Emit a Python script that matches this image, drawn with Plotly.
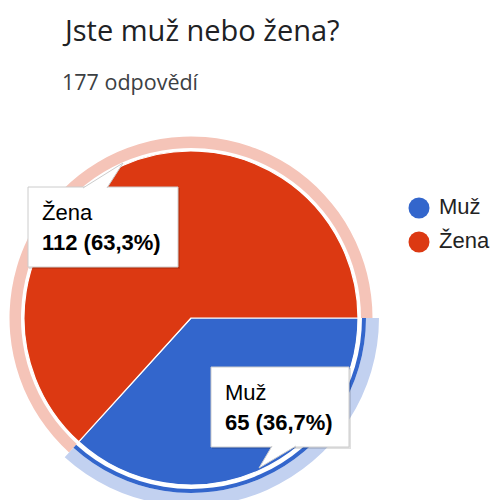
import plotly.graph_objects as go

# data
labels = ["Muž", "Žena"]
counts = [65, 112]
colors = ["#3366cc", "#dc3912"]
pale_colors = ["#c2d1f0", "#f5c4b8"]
title_text = "Jste muž nebo žena?"
total = sum(counts)
subtitle_text = f"{total} odpovědí"

W, H = 492, 512
CX, CY = 191, 318  # pie centre in pixels from top-left
CLEAR = "rgba(0,0,0,0)"


def px(x):
    return x / W


def py(y):
    return 1 - y / H


def dom(r):
    return dict(x=[px(CX - r), px(CX + r)], y=[py(CY + r), py(CY - r)])


def pct(v):
    return f"{v / total * 100:.1f}".replace(".", ",")


def ring(r_out, r_in, cols):
    return go.Pie(
        values=counts, labels=labels, sort=False, direction="clockwise", rotation=90,
        domain=dom(r_out), hole=r_in / r_out,
        marker=dict(colors=cols, line=dict(width=0)),
        textinfo="none", hoverinfo="skip", showlegend=False,
    )


fig = go.Figure()

# highlight rings
fig.add_trace(ring(181.5, 170, [CLEAR, pale_colors[1]]))
fig.add_trace(ring(188, 175, [pale_colors[0], CLEAR]))
fig.add_trace(ring(175, 171, [colors[0], CLEAR]))

# main pie
fig.add_trace(go.Pie(
    values=counts, labels=labels, sort=False, direction="clockwise", rotation=90,
    domain=dom(167),
    marker=dict(colors=colors, line=dict(color="white", width=1.2)),
    textinfo="none", hovertemplate="%{label}<br><b>%{value} (%{percent})</b><extra></extra>",
    showlegend=False,
))

# legend drawn as markers on a category axis (1 x-unit = 1 px)
fig.add_trace(go.Scatter(
    x=[0] * len(labels), y=labels, mode="markers",
    marker=dict(color=colors, size=21),
    hoverinfo="skip", showlegend=False, cliponaxis=False,
))
fig.add_trace(go.Scatter(
    x=[20] * len(labels), y=labels, mode="text",
    text=labels, textposition="middle right",
    textfont=dict(family="Liberation Sans, Arial", size=22, color="#222222"),
    hoverinfo="skip", showlegend=False, cliponaxis=False,
))

fig.update_layout(
    width=W, height=H,
    margin=dict(l=0, r=0, t=0, b=0),
    paper_bgcolor="white", plot_bgcolor="rgba(0,0,0,0)",
    showlegend=False,
    xaxis=dict(domain=[px(408), 1], range=[-11, 73], visible=False, fixedrange=True),
    yaxis=dict(domain=[py(259), py(191)], type="category", categoryarray=labels,
               range=[1.5, -0.5], visible=False, fixedrange=True),
    font=dict(family="Roboto, Arial", color="#202124"),
)

# title + subtitle
fig.add_annotation(text=title_text, x=px(60), y=py(29), xref="paper", yref="paper",
                   xanchor="left", yanchor="middle", showarrow=False,
                   font=dict(family="Open Sans, Roboto", size=29, color="#202124"))
fig.add_annotation(text=subtitle_text, x=px(60), y=py(81), xref="paper", yref="paper",
                   xanchor="left", yanchor="middle", showarrow=False,
                   font=dict(family="Open Sans, Roboto", size=21.5, color="#3c4043"))


def tooltip(x0, y0, x1, y1, pointer, name, value):
    # shadow, box, pointer
    fig.add_shape(type="rect", xref="paper", yref="paper",
                  x0=px(x0 + 1), x1=px(x1 + 2), y0=py(y0 + 1), y1=py(y1 + 2),
                  fillcolor="rgba(0,0,0,0.12)", line=dict(width=0))
    fig.add_shape(type="rect", xref="paper", yref="paper",
                  x0=px(x0), x1=px(x1), y0=py(y0), y1=py(y1),
                  fillcolor="white", line=dict(color="#cccccc", width=1))
    path = "M " + " L ".join(f"{px(a)},{py(b)}" for a, b in pointer)
    fig.add_shape(type="path", xref="paper", yref="paper", path=path,
                  fillcolor="white", line=dict(color="#cccccc", width=1))
    fig.add_annotation(text=name, x=px(x0 + 12), y=py(y0 + 25),
                       xref="paper", yref="paper", xanchor="left", yanchor="middle",
                       showarrow=False,
                       font=dict(family="Liberation Sans, Arial", size=22, color="#000000"))
    fig.add_annotation(text=f"<b>{value} ({pct(value)}%)</b>", x=px(x0 + 12), y=py(y0 + 55),
                       xref="paper", yref="paper", xanchor="left", yanchor="middle",
                       showarrow=False,
                       font=dict(family="Liberation Sans, Arial", size=22, color="#000000"))


tooltip(28, 187, 178, 267, [(83, 188), (123, 163), (107, 188)], labels[1], counts[1])
tooltip(211, 367, 349, 447, [(272, 446), (259, 468), (296, 446)], labels[0], counts[0])

fig.write_html("out.html", config={"displayModeBar": False},
               post_script="document.documentElement.style.overflow='hidden';"
                           "document.body.style.overflow='hidden';document.body.style.margin='0';")
